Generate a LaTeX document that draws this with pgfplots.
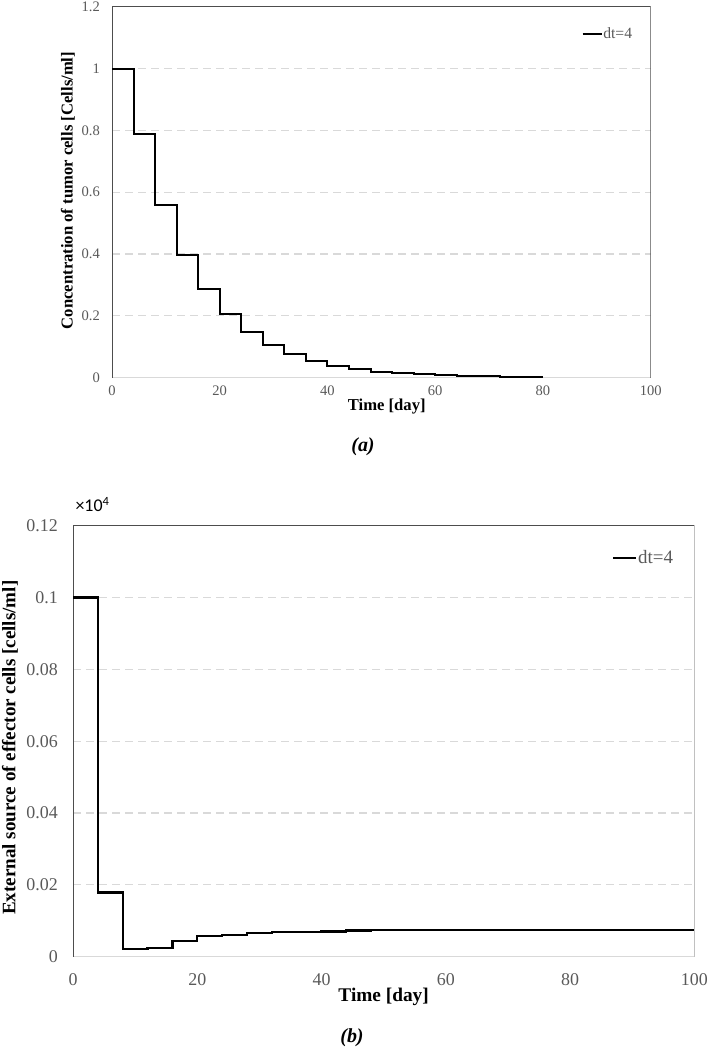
\documentclass[border=0pt]{standalone}
\usepackage{pgfplots}
\pgfplotsset{compat=1.18}
\usepackage{fontspec}
\setmainfont{Liberation Serif}
\newfontfamily\calibrilike{Carlito}

\definecolor{ticktext}{HTML}{595959}
\definecolor{gridgray}{HTML}{D9D9D9}
\definecolor{framegray}{HTML}{4D4D4D}

% tumour concentration, step output every 4 days
\pgfplotstableread{
t   c
0   1.0
4   0.788
8   0.558
12  0.397
16  0.286
20  0.205
24  0.147
28  0.106
32  0.077
36  0.055
40  0.039
44  0.028
48  0.020
52  0.0145
56  0.0104
60  0.0075
64  0.0054
68  0.0039
72  0.0028
76  0.0020
80  0.0020
}\tumor

% external source of effector cells (x 10^4)
\pgfplotstableread{
t   s
0   0.1
4   0.0179
8   0.00206
12  0.00242
16  0.00437
20  0.00568
24  0.00604
28  0.0065
32  0.0068
36  0.00696
40  0.0070
44  0.0073
48  0.0074
100 0.0074
}\effector

\pgfplotsset{
  panel/.style={
    scale only axis,
    xmin=0, xmax=100, xtick={0,20,40,60,80,100},
    axis line style={draw=none},
    major tick length=0pt,
    ymajorgrids,
    grid style={gridgray, line width=1.1bp, dash pattern=on 8bp off 5bp},
    tick label style={text=ticktext},
    /pgf/number format/assume math mode=true,
    yticklabel style={/pgf/number format/fixed, /pgf/number format/precision=2},
    scaled y ticks=false,
    legend style={draw=none, fill=none, inner sep=0pt, text=ticktext,
                  nodes={inner sep=0.6bp}},
  },
}

\begin{document}
\begin{tikzpicture}
\path[use as bounding box] (0,0) rectangle (709bp,-1050bp);

% (a) tumour cells
\begin{axis}[panel,
  at={(112bp,-377.7bp)}, anchor=south west,
  width=538.7bp, height=371bp,
  ymin=0, ymax=1.2, ytick={0,0.2,0.4,0.6,0.8,1,1.2},
  tick label style={font=\fontsize{14.6}{16}\selectfont},
  xticklabel style={anchor=north, inner sep=0pt, yshift=-8bp},
  yticklabel style={anchor=east, inner sep=0pt, xshift=-12bp},
  xlabel={Time [day]},
  xlabel style={at={(axis description cs:0.51,-0.079)}, anchor=center,
                font=\fontsize{16.7}{18}\selectfont\bfseries},
  ylabel={Concentration of tumor cells [Cells/ml]},
  ylabel style={at={(axis description cs:-0.0817,0.5046)}, anchor=center,
                font=\fontsize{16.7}{18}\selectfont\bfseries},
  legend style={at={(axis description cs:0.967,0.926)}, anchor=east,
                font=\fontsize{15.7}{17}\selectfont},
  legend image code/.code={\draw[#1, line width=2bp] (0bp,0bp) -- (19bp,0bp);},
]
\draw[gridgray, line width=1.2bp] (rel axis cs:0,0) -- (rel axis cs:1,0);
\draw[framegray, line width=1bp] (rel axis cs:0,0) -- (rel axis cs:0,1)
   -- (rel axis cs:1,1) -- (rel axis cs:1,0);
\addplot[const plot, black, line width=2bp] table[x=t, y=c] {\tumor};
\addlegendentry{dt=4}
\end{axis}
\node[font=\fontsize{20}{22}\selectfont\bfseries\itshape] at (363bp,-447bp) {(a)};

% (b) effector cells
\begin{axis}[panel,
  at={(73bp,-956.7bp)}, anchor=south west,
  width=621.3bp, height=431bp,
  ymin=0, ymax=0.12, ytick={0,0.02,0.04,0.06,0.08,0.1,0.12},
  tick label style={font=\fontsize{18}{20}\selectfont},
  xticklabel style={anchor=north, inner sep=0pt, yshift=-17bp},
  yticklabel style={anchor=east, inner sep=0pt, xshift=-15bp},
  xlabel={Time [day]},
  xlabel style={at={(axis description cs:0.5,-0.0935)}, anchor=center,
                font=\fontsize{19.4}{21}\selectfont\bfseries},
  ylabel={External source of effector cells [cells/ml]},
  ylabel style={at={(axis description cs:-0.1014,0.485)}, anchor=center,
                font=\fontsize{19.1}{21}\selectfont\bfseries},
  legend style={at={(axis description cs:0.967,0.925)}, anchor=east,
                font=\fontsize{19}{21}\selectfont},
  legend image code/.code={\draw[#1, line width=2.4bp] (0bp,0bp) -- (23bp,0bp);},
]
\draw[gridgray, line width=1.2bp] (rel axis cs:0,0) -- (rel axis cs:1,0);
\draw[framegray, line width=1bp] (rel axis cs:0,0) -- (rel axis cs:0,1)
   -- (rel axis cs:1,1) -- (rel axis cs:1,0);
\addplot[const plot, black, line width=2.2bp] table[x=t, y=s] {\effector};
\addlegendentry{dt=4}
\end{axis}
\node[anchor=base west, font=\calibrilike\fontsize{18}{20}\selectfont] at (72bp,-511.7bp) {×10\textsuperscript{4}};
\node[font=\fontsize{20}{22}\selectfont\bfseries\itshape] at (352bp,-1038bp) {(b)};
\end{tikzpicture}
\end{document}
